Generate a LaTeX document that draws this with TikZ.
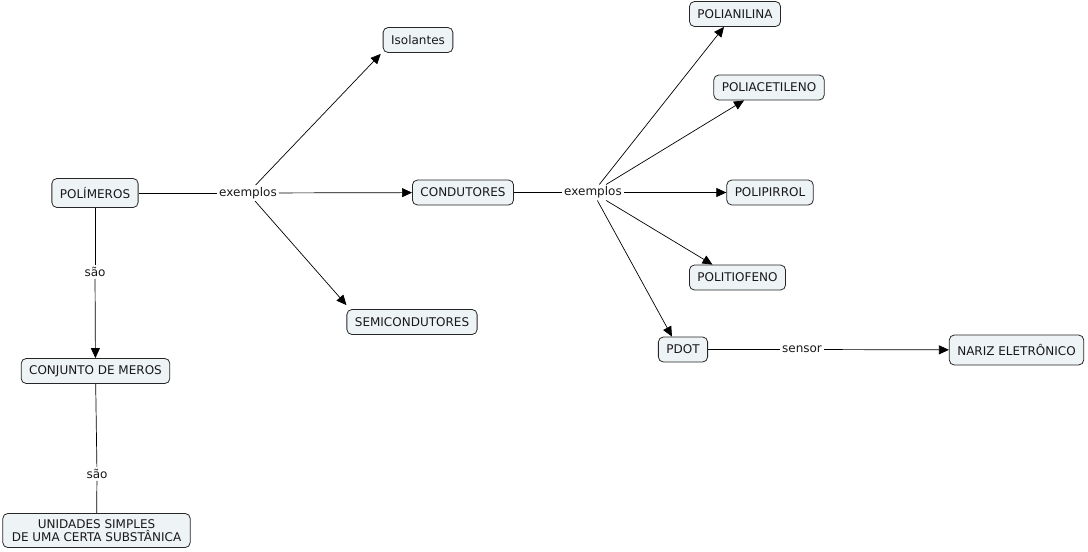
\documentclass[tikz,border=0pt]{standalone}
\usepackage{fontspec}
\setmainfont{DejaVu Sans}
\usetikzlibrary{arrows.meta}
\begin{document}
\begin{tikzpicture}[x=1pt,y=-1pt,
  concept/.style={draw=black!85, line width=0.8pt, rounded corners=5pt, fill=boxfill,
    font=\fontsize{12}{14}\selectfont, text=black!90, inner xsep=8pt, minimum height=25pt, align=center},
  link/.style={font=\fontsize{12}{14}\selectfont, text=black!90, inner sep=2pt},
  conn/.style={draw=black, line width=0.7pt},
  arr/.style={conn, -{Triangle[length=10pt,width=9pt]}}]
\definecolor{boxfill}{HTML}{EEF3F5}
\useasboundingbox (0,0) rectangle (1088,552);
% concepts
\node[concept, minimum height=29pt] (pol) at (95,193) {POLÍMEROS};
\node[concept] (cond) at (463,192.5) {CONDUTORES};
\node[concept] (iso) at (418,40) {Isolantes};
\node[concept] (semi) at (412,322) {SEMICONDUTORES};
\node[concept] (conj) at (95.5,371) {CONJUNTO DE MEROS};
\node[concept, inner xsep=9pt, inner ysep=6pt] (unid) at (96.5,530.5) {UNIDADES SIMPLES\\[-1pt]DE UMA CERTA SUBSTÂNICA};
\node[concept] (pani) at (735,14) {POLIANILINA};
\node[concept] (pace) at (769,87.5) {POLIACETILENO};
\node[concept] (ppir) at (770,192.5) {POLIPIRROL};
\node[concept] (ptio) at (737.5,277.5) {POLITIOFENO};
\node[concept] (pdot) at (683,349.5) {PDOT};
\node[concept, minimum height=30pt] (nariz) at (1016.5,350) {NARIZ ELETRÔNICO};
% linking phrases
\node[link] (ex1) at (248,193) {exemplos};
\node[link] (ex2) at (593,192.5) {exemplos};
\node[link] (sao1) at (95,272) {são};
\node[link] (sao2) at (97,474) {são};
\node[link] (sen) at (802,349.5) {sensor};
% connectors
\draw[conn] (pol) -- (ex1);
\draw[arr] (ex1) -- (cond);
\draw[arr] (ex1) -- ([xshift=-2pt,yshift=-1pt]iso.south west);
\draw[arr] (ex1) -- ([yshift=4pt]semi.north west);
\draw[conn] (pol) -- (sao1);
\draw[arr] (sao1) -- (conj);
\draw[conn] (conj) -- (sao2);
\draw[conn] (sao2) -- (unid);
\draw[conn] (cond) -- (ex2);
\draw[arr] (ex2) -- (ppir);
\draw[arr] (ex2) -- ([xshift=-11pt]pani.south);
\draw[arr] (ex2) -- ([xshift=-25pt]pace.south);
\draw[arr] (ex2) -- ([xshift=-25pt]ptio.north);
\draw[arr] (ex2) -- ([xshift=-11pt]pdot.north);
\draw[conn] (pdot) -- (sen);
\draw[arr] (sen) -- (nariz);
\end{tikzpicture}
\end{document}
